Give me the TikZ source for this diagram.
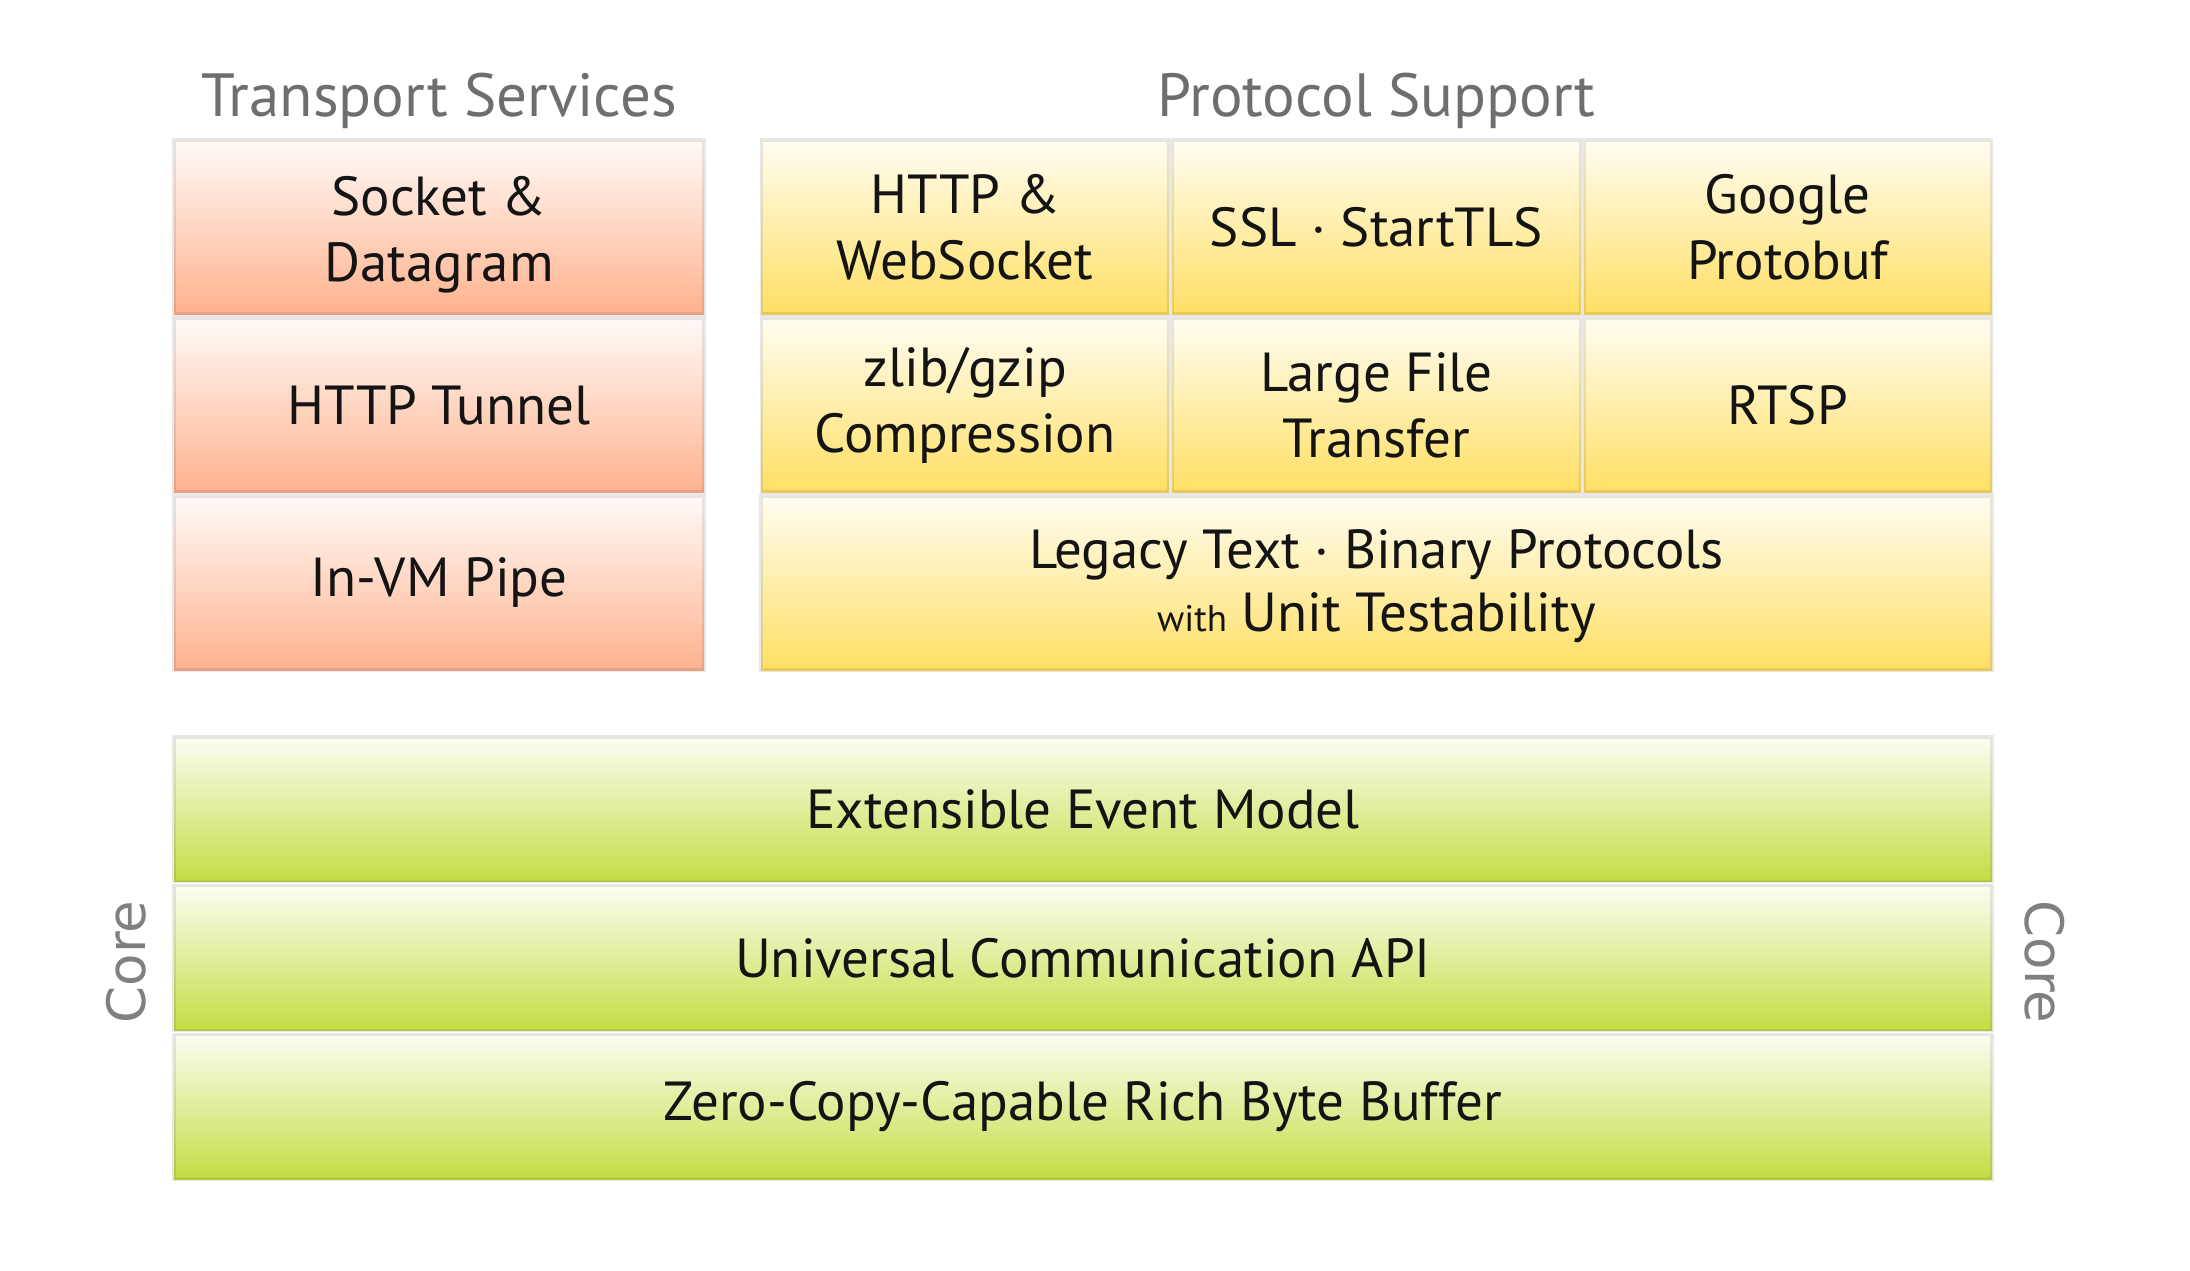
\documentclass[tikz,border=0pt]{standalone}
\usepackage{fontspec}
\setmainfont{PT Sans}
\newfontfamily\corefont{DejaVu Sans}
\newcommand{\myupstrut}{\rule{0pt}{55pt}}
\definecolor{redtop}{RGB}{255,250,247}
\definecolor{redbot}{RGB}{255,178,142}
\definecolor{yeltop}{RGB}{255,253,242}
\definecolor{yelbot}{RGB}{255,223,100}
\definecolor{grntop}{RGB}{252,253,242}
\definecolor{grnbot}{RGB}{197,221,68}
\definecolor{titlegray}{RGB}{110,110,110}
\definecolor{coregray}{RGB}{128,128,128}
\begin{document}
\begin{tikzpicture}[x=1pt,y=-1pt,
  cell/.style={draw=black, draw opacity=0.09, line width=3.5pt, inner sep=0pt,
    align=center, text=black!92, font=\fontsize{55}{66}\selectfont},
  tcell/.style={cell, top color=redtop, bottom color=redbot,
    minimum width=530pt, minimum height=174pt},
  pcell/.style={cell, top color=yeltop, bottom color=yelbot,
    minimum width=407.7pt, minimum height=174pt},
  pwide/.style={cell, top color=yeltop, bottom color=yelbot,
    minimum width=1231pt, minimum height=174pt},
  gcell/.style={cell, top color=grntop, bottom color=grnbot,
    minimum width=1818pt, minimum height=144.7pt},
  grouptitle/.style={anchor=base, inner sep=0pt, text=titlegray,
    font=\fontsize{61}{66}\selectfont},
  corelbl/.style={inner sep=0pt, text=coregray,
    font=\corefont\fontsize{53}{58}\selectfont}
]
\useasboundingbox (0,0) rectangle (2190,1270);

% titles
\node[grouptitle] (tstitle) at (439,116) {Transport Services};
\node[grouptitle] (pstitle) at (1376.5,116) {Protocol Support};

% transport services
\node[tcell] (ts1) at (439,227) {\myupstrut Socket \&\\Datagram};
\node[tcell] (ts2) at (439,405) {HTTP Tunnel};
\node[tcell] (ts3) at (439,583) {In-VM Pipe};

% protocol support
\node[pcell] (ps1) at (965.2,227) {HTTP \&\\WebSocket};
\node[pcell] (ps2) at (1376.5,227) {SSL · StartTLS};
\node[pcell] (ps3) at (1787.8,227) {Google\\Protobuf};
\node[pcell] (ps4) at (965.2,405) {zlib/gzip\\Compression};
\node[pcell] (ps5) at (1376.5,405) {Large File\\Transfer};
\node[pcell] (ps6) at (1787.8,405) {RTSP};
\node[pwide] (ps7) at (1376.5,583) {\rule{0pt}{46pt}Legacy Text · Binary Protocols\\[-3pt]{\fontsize{37}{40}\selectfont with} Unit Testability};

% core
\node[gcell] (c1) at (1083,809.3) {Extensible Event Model};
\node[gcell] (c2) at (1083,958) {Universal Communication API};
\node[gcell] (c3) at (1083,1106.7) {Zero-Copy-Capable Rich Byte Buffer};

\node[corelbl, rotate=90] (corel) at (126,962) {Core};
\node[corelbl, rotate=-90] (corer) at (2045,962) {Core};
\end{tikzpicture}
\end{document}
